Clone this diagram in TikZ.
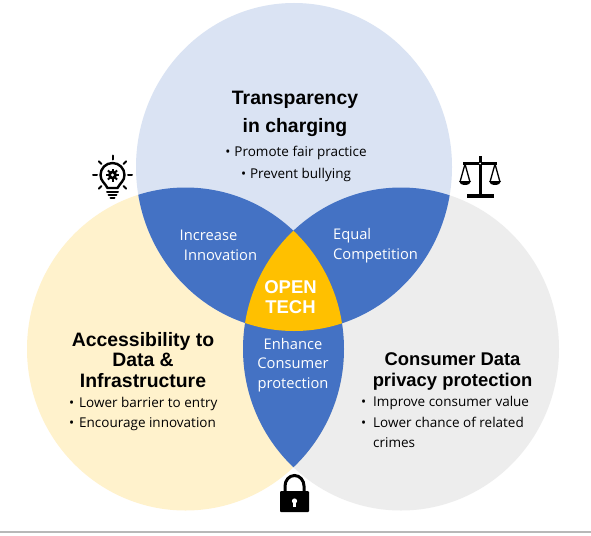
\documentclass[tikz,border=0pt]{standalone}
\usepackage{fontspec}
\setmainfont{Open Sans}
\newfontfamily\headfont{Liberation Sans}
\usepackage{xcolor}
\definecolor{topfill}{HTML}{DAE3F3}
\definecolor{leftfill}{HTML}{FFF2CC}
\definecolor{rightfill}{HTML}{EDEDED}
\definecolor{lensblue}{HTML}{4472C4}
\definecolor{coregold}{HTML}{FFC000}
\usetikzlibrary{positioning}
\def\topring{(294,167) ellipse [x radius=158, y radius=164]}
\def\leftring{(185.5,349) ellipse [x radius=158.5, y radius=161.5]}
\def\rightring{(401,349) ellipse [x radius=158, y radius=161.5]}
\newcommand{\bul}[1]{\makebox[10pt][l]{\textbullet}#1}

\begin{document}
\begin{tikzpicture}[x=1pt, y=-1pt, every node/.style={inner sep=0pt, align=center},
    head/.style={font=\headfont\bfseries\fontsize{19.4}{28}\selectfont, text=black},
    body/.style={font=\fontsize{13.5}{20.5}\selectfont, text=black},
    lens/.style={font=\fontsize{14.7}{19.7}\selectfont, text=white},
    core/.style={font=\headfont\bfseries\fontsize{18.5}{20}\selectfont, text=white},
    icon/.style={line width=2pt, black, line cap=round}]
  \useasboundingbox (0,0) rectangle (591,535);
  \fill[white] (0,0) rectangle (591,535);
  \fill[black!28] (0,531) rectangle (591,533);

  % circles
  \fill[rightfill] \rightring;
  \fill[leftfill] \leftring;
  \fill[topfill] \topring;

  % overlaps
  \begin{scope}
    \clip \topring;
    \fill[lensblue] \leftring;
    \fill[lensblue] \rightring;
  \end{scope}
  \begin{scope}
    \clip \leftring;
    \fill[lensblue] \rightring;
  \end{scope}
  \begin{scope}
    \clip \topring;
    \clip \leftring;
    \fill[coregold] \rightring;
  \end{scope}

  % texts
  \node (transparency) [head] at (295,113.5) {Transparency\\in charging};
  \node (fair) [body] at (296,153) {\textbullet\hspace{4pt}Promote fair practice};
  \node (bully) [body] at (296,175) {\textbullet\hspace{4pt}Prevent bullying};

  \node (access) [head, font=\headfont\bfseries\fontsize{19.4}{20.5}\selectfont] at (143,360) {Accessibility to\\Data \&\\Infrastructure};
  \node (accessbody) [body, align=left, anchor=north west] at (69,397) {\bul{Lower barrier to entry}\\\bul{Encourage innovation}};

  \node (privacy) [head, font=\headfont\bfseries\fontsize{18.4}{21}\selectfont] at (452.5,371) {Consumer Data\\privacy protection};
  \node (privacybody) [body, align=left, anchor=north west] at (361,396.5) {\bul{\hspace{2pt}Improve consumer value}\\\bul{\hspace{2pt}Lower chance of related}\\\hspace{12pt}crimes};

  \node (innovation) [lens] at (208.5,245) {Increase\\\hspace{24pt}Innovation};
  \node (competition) [lens, align=left] at (375.5,246) {Equal\\Competition};
  \node (protection) [lens] at (293,365) {Enhance\\Consumer\\protection};
  \node (opentech) [core] at (290.5,297) {OPEN\\TECH};

  % bulb
  \draw[black, line width=2.4pt, line join=round] (107.5,188) .. controls (105,183) and (100.5,181) .. (100.5,175)
    arc[start angle=180, end angle=360, radius=12]
    .. controls (124.5,181) and (120,183) .. (117.5,188) -- cycle;
  \fill (112.5,175) circle (4.5);
  \foreach \a in {0,45,...,315}
    \draw[black, line width=2pt] (112.5,175) ++(\a:3) -- ++(\a:3.5);
  \fill[white] (112.5,175) circle (1.7);
  \foreach \a in {0,45,135,180,225,-45,-90}
    \draw[icon] (112.5,175) ++(\a:15.5) -- ++(\a:4);
  \draw[icon] (107,191.7) -- (118,191.7);
  \draw[icon] (108.5,195) -- (116.5,195);
  \draw[icon] (110.5,198.3) -- (114.5,198.3);

  % scales
  \fill (478.5,156) rectangle (481.5,194);
  \fill (466.5,194) rectangle (493.5,198);
  \fill (463,162) rectangle (497,165);
  \fill[white] (480,163.5) circle (1);
  \draw[black, line width=1.3pt] (465,164) -- (460,182) (465,164) -- (470,182)
    (495,164) -- (490,182) (495,164) -- (500,182);
  \fill (459,181) -- (471,181) arc[start angle=0, end angle=-180, x radius=6, y radius=-4] -- cycle;
  \fill (489,181) -- (501,181) arc[start angle=0, end angle=-180, x radius=6, y radius=-4] -- cycle;

  % lock
  \draw[black, line width=3pt] (285,492) -- (285,486) arc[start angle=180, end angle=0, x radius=9.5, y radius=-10.5] -- (304,492);
  \fill[rounded corners=1pt] (280,491) rectangle (309,512);
  \fill[white] (294.5,501) circle (2.6);
  \fill[white] (293.3,501) rectangle (295.7,507);
\end{tikzpicture}
\end{document}
